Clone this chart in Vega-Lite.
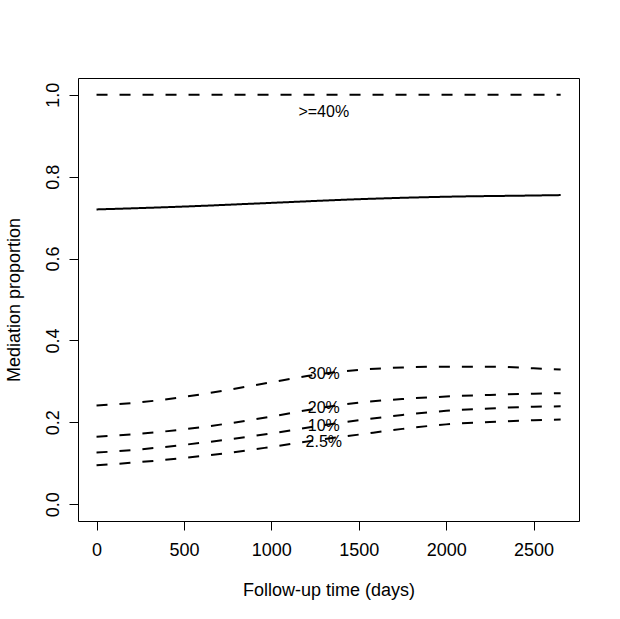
{
  "$schema": "https://vega.github.io/schema/vega-lite/v6.json",
  "autosize": "none",
  "width": 501,
  "height": 443,
  "padding": {"left": 78, "top": 78, "right": 41, "bottom": 98},
  "background": "white",
  "config": {
    "view": {"stroke": "black", "strokeWidth": 1},
    "font": "Liberation Sans",
    "axis": {
      "grid": false,
      "domain": false,
      "tickColor": "black",
      "tickSize": 9,
      "tickWidth": 1,
      "labelColor": "black",
      "labelFontSize": 18,
      "labelFont": "Liberation Sans",
      "titleColor": "black",
      "titleFontSize": 18,
      "titleFont": "Liberation Sans",
      "titleFontWeight": "normal"
    }
  },
  "datasets": {
    "curves": [
      {"s": "est", "t": 0, "p": 0.720},
      {"s": "est", "t": 500, "p": 0.727},
      {"s": "est", "t": 1000, "p": 0.736},
      {"s": "est", "t": 1500, "p": 0.745},
      {"s": "est", "t": 2000, "p": 0.751},
      {"s": "est", "t": 2500, "p": 0.754},
      {"s": "est", "t": 2655, "p": 0.755},
      {"s": "40", "t": 0, "p": 1.0},
      {"s": "40", "t": 2655, "p": 1.0},
      {"s": "30", "t": 0, "p": 0.241},
      {"s": "30", "t": 250, "p": 0.249},
      {"s": "30", "t": 500, "p": 0.262},
      {"s": "30", "t": 750, "p": 0.279},
      {"s": "30", "t": 1000, "p": 0.298},
      {"s": "30", "t": 1250, "p": 0.316},
      {"s": "30", "t": 1500, "p": 0.328},
      {"s": "30", "t": 1750, "p": 0.334},
      {"s": "30", "t": 2000, "p": 0.336},
      {"s": "30", "t": 2250, "p": 0.336},
      {"s": "30", "t": 2500, "p": 0.332},
      {"s": "30", "t": 2655, "p": 0.329},
      {"s": "20", "t": 0, "p": 0.165},
      {"s": "20", "t": 250, "p": 0.172},
      {"s": "20", "t": 500, "p": 0.183},
      {"s": "20", "t": 750, "p": 0.197},
      {"s": "20", "t": 1000, "p": 0.214},
      {"s": "20", "t": 1250, "p": 0.233},
      {"s": "20", "t": 1500, "p": 0.248},
      {"s": "20", "t": 1750, "p": 0.257},
      {"s": "20", "t": 2000, "p": 0.263},
      {"s": "20", "t": 2250, "p": 0.267},
      {"s": "20", "t": 2500, "p": 0.270},
      {"s": "20", "t": 2655, "p": 0.271},
      {"s": "10", "t": 0, "p": 0.126},
      {"s": "10", "t": 250, "p": 0.134},
      {"s": "10", "t": 500, "p": 0.145},
      {"s": "10", "t": 750, "p": 0.158},
      {"s": "10", "t": 1000, "p": 0.173},
      {"s": "10", "t": 1250, "p": 0.190},
      {"s": "10", "t": 1500, "p": 0.205},
      {"s": "10", "t": 1750, "p": 0.218},
      {"s": "10", "t": 2000, "p": 0.228},
      {"s": "10", "t": 2250, "p": 0.234},
      {"s": "10", "t": 2500, "p": 0.238},
      {"s": "10", "t": 2655, "p": 0.239},
      {"s": "2.5", "t": 0, "p": 0.095},
      {"s": "2.5", "t": 250, "p": 0.103},
      {"s": "2.5", "t": 500, "p": 0.113},
      {"s": "2.5", "t": 750, "p": 0.125},
      {"s": "2.5", "t": 1000, "p": 0.140},
      {"s": "2.5", "t": 1250, "p": 0.156},
      {"s": "2.5", "t": 1500, "p": 0.170},
      {"s": "2.5", "t": 1750, "p": 0.184},
      {"s": "2.5", "t": 2000, "p": 0.195},
      {"s": "2.5", "t": 2250, "p": 0.201},
      {"s": "2.5", "t": 2500, "p": 0.205},
      {"s": "2.5", "t": 2655, "p": 0.207}
    ],
    "labels": [
      {"label": ">=40%", "t": 1300, "p": 0.958},
      {"label": "30%", "t": 1300, "p": 0.319},
      {"label": "20%", "t": 1300, "p": 0.235},
      {"label": "10%", "t": 1300, "p": 0.192},
      {"label": "2.5%", "t": 1300, "p": 0.152}
    ]
  },
  "encoding": {
    "x": {
      "field": "t",
      "type": "quantitative",
      "scale": {"domain": [-106, 2760], "nice": false, "zero": false},
      "axis": {
        "values": [0, 500, 1000, 1500, 2000, 2500],
        "format": "d",
        "labelPadding": 11,
        "title": "Follow-up time (days)",
        "titleBaseline": "alphabetic",
        "titleX": 250.5,
        "titleY": 74
      }
    },
    "y": {
      "field": "p",
      "type": "quantitative",
      "scale": {"domain": [-0.041, 1.041], "nice": false, "zero": false},
      "axis": {
        "values": [0, 0.2, 0.4, 0.6, 0.8, 1.0],
        "format": ".1f",
        "labelAngle": -90,
        "labelAlign": "center",
        "labelBaseline": "alphabetic",
        "labelPadding": 11,
        "title": "Mediation proportion",
        "titleAngle": -90,
        "titleBaseline": "alphabetic",
        "titleAlign": "center",
        "titleX": -59,
        "titleY": 221.5
      }
    }
  },
  "layer": [
    {
      "data": {"name": "curves"},
      "mark": {"type": "line", "color": "black", "strokeWidth": 2, "interpolate": "monotone"},
      "encoding": {
        "detail": {"field": "s"},
        "strokeDash": {
          "field": "s",
          "type": "nominal",
          "scale": {
            "domain": ["est", "40", "30", "20", "10", "2.5"],
            "range": [[1, 0], [11, 12], [11, 12], [11, 12], [11, 12], [11, 12]]
          },
          "legend": null
        }
      }
    },
    {
      "data": {"name": "labels"},
      "mark": {
        "type": "text",
        "font": "Liberation Sans",
        "fontSize": 16,
        "color": "black",
        "align": "center",
        "baseline": "middle"
      },
      "encoding": {"text": {"field": "label"}}
    }
  ]
}
